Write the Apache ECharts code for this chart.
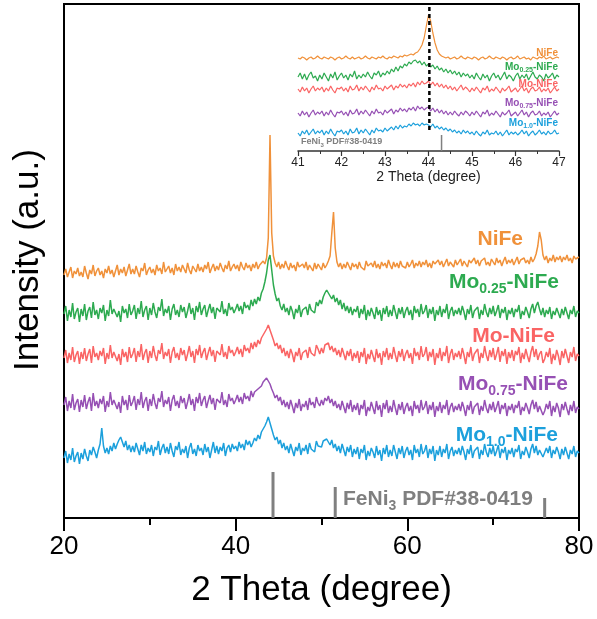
<!DOCTYPE html>
<html>
<head>
<meta charset="utf-8">
<script src="https://cdn.jsdelivr.net/npm/echarts@6/dist/echarts.min.js"></script>
<style>html,body{margin:0;padding:0;background:#fff}#c{width:597px;height:619px}</style>
</head>
<body>
<div id="c"></div>
<script>
// ---------- main pattern: 2θ from 20 to 80, step 0.2 ----------
const thetaStart = 20, thetaStep = 0.2;
const niFe = [
243,249,241,246,251,240,247,244,250,242,
246,241,252,245,239,248,244,253,242,247,
250,243,247,240,249,245,252,244,248,241,
247,253,243,249,245,251,242,248,254,244,
249,244,252,246,241,250,247,255,243,248,
251,245,249,243,253,247,250,244,256,246,
248,252,245,250,243,254,247,251,246,253,
249,245,255,248,244,252,250,246,254,247,
251,246,253,249,256,245,250,254,247,252,
248,255,250,246,253,249,257,247,251,254,
249,253,247,256,251,248,255,250,253,247,
254,250,256,249,253,251,257,254,260,280,
383,285,262,255,251,256,249,254,250,257,
252,248,255,250,253,247,256,251,249,254,
250,256,248,253,251,247,255,249,254,252,
248,255,250,253,257,262,285,306,270,256,
251,255,249,254,250,256,252,248,255,251,
254,249,256,251,253,248,257,252,250,255,
251,257,250,254,249,256,252,255,250,258,
253,249,256,251,255,250,257,252,254,250,
256,251,254,258,250,255,252,257,251,256,
253,258,251,255,250,257,254,252,258,253,
257,251,255,259,252,256,254,251,258,253,
255,259,252,257,254,251,258,255,253,260,
254,258,252,257,255,260,253,256,252,259,
256,253,260,255,258,252,257,261,254,258,
255,259,253,257,261,254,258,256,260,255,
258,254,261,256,259,264,272,286,278,263,
258,262,255,260,257,263,256,261,258,262,
256,261,258,263,257,260,255,262,259,257,
261];
const mo025 = [
204,212,197,208,201,215,199,206,210,196,
209,202,214,198,207,211,200,216,203,208,
199,210,205,213,197,208,202,218,204,209,
211,201,207,196,212,205,209,200,214,203,
207,213,199,210,204,217,201,208,212,198,
210,203,215,206,200,211,207,219,202,209,
205,212,198,209,214,203,208,201,213,206,
211,200,207,215,204,210,198,212,206,216,
203,209,213,201,208,214,205,211,199,210,
212,206,217,204,209,202,215,208,211,205,
209,214,207,212,204,216,210,213,208,218,
212,219,214,221,217,225,229,236,245,258,
263,248,233,224,217,220,212,208,214,206,
210,203,212,207,199,209,205,213,201,208,
206,211,203,214,208,210,205,216,212,218,
214,221,225,228,226,222,219,223,216,220,
213,218,209,215,207,212,205,211,203,209,
206,212,200,209,204,213,198,208,202,210,
205,199,211,203,208,197,210,204,212,201,
208,202,213,206,199,210,204,211,200,207,
211,203,208,198,212,205,209,201,214,204,
207,213,200,209,204,211,197,208,203,212,
201,209,205,214,199,207,211,202,208,204,
210,203,212,206,198,209,204,213,200,207,
205,211,199,208,203,214,206,201,210,204,
212,202,207,213,200,209,205,211,198,208,
204,210,201,209,206,213,199,207,203,211,
206,200,209,214,205,212,216,209,203,210,
201,208,204,211,199,207,203,210,205,200,
209,203,211,205,199,208,204,212,201,207,
205];
const moNiFe = [
160,168,155,165,158,171,156,163,167,154,
166,159,170,157,164,169,155,172,161,165,
158,167,162,170,154,165,159,173,160,166,
168,157,164,153,169,161,166,156,171,160,
164,170,156,167,161,174,158,165,169,155,
167,160,172,163,157,168,164,175,159,166,
162,169,155,166,171,160,165,158,170,163,
168,157,164,172,161,167,155,169,163,173,
160,166,170,158,165,171,162,168,156,167,
169,163,174,161,166,159,172,165,168,162,
166,171,164,169,161,173,167,170,165,175,
169,176,171,178,174,180,183,186,189,193,
188,183,178,172,175,169,173,165,170,162,
167,160,169,164,156,166,162,170,158,165,
163,168,160,171,165,167,162,173,169,164,
170,165,173,171,175,168,172,166,170,163,
168,161,170,164,158,167,162,169,157,165,
160,167,155,166,161,170,154,164,159,168,
162,156,169,160,165,153,167,161,170,158,
165,159,171,163,156,167,161,169,157,164,
168,160,165,154,170,162,166,158,172,161,
164,171,157,166,161,169,153,165,160,170,
157,166,162,172,155,164,169,158,165,161,
167,159,170,163,154,166,161,171,157,164,
162,169,155,165,160,172,163,157,168,161,
170,158,164,171,156,167,162,169,154,166,
160,168,157,167,163,171,155,165,159,169,
162,156,166,172,161,169,158,164,167,155,
159,166,161,170,154,164,158,168,162,153,
167,160,169,162,155,166,161,171,157,164,
162];
const mo075 = [
113,121,107,117,110,124,108,115,119,106,
118,111,123,109,116,121,107,125,112,117,
110,119,114,122,106,117,111,126,113,118,
120,109,116,105,122,113,118,108,123,112,
116,122,108,119,113,126,110,117,121,107,
119,112,124,115,109,120,116,127,111,118,
114,121,107,118,123,112,117,110,122,115,
120,109,116,124,113,119,107,121,115,125,
112,118,122,110,117,123,114,120,108,119,
121,115,126,113,118,111,124,117,120,114,
118,123,116,121,114,125,119,122,117,127,
121,126,124,129,127,132,136,138,140,137,
134,129,125,120,123,117,121,113,118,111,
116,109,118,112,105,115,110,119,107,114,
111,117,108,120,113,116,110,121,115,112,
118,113,120,117,122,115,119,112,117,110,
114,108,117,111,105,115,109,118,106,113,
108,115,103,113,109,118,102,111,107,116,
110,104,117,108,113,101,115,109,118,105,
112,106,118,110,103,114,108,116,104,111,
115,107,112,102,117,109,113,105,118,108,
111,117,104,113,108,116,101,112,107,116,
105,113,109,118,103,111,115,106,112,108,
114,107,116,110,102,113,108,117,104,111,
109,115,103,112,107,118,110,105,114,108,
116,106,111,117,104,113,109,115,102,112,
108,114,105,113,110,117,103,111,107,115,
110,104,113,118,109,116,106,112,114,103,
107,114,109,117,102,112,106,115,110,101,
114,108,116,109,103,113,107,117,105,111,
109];
const mo10 = [
60,67,55,64,58,70,56,62,66,54,
65,59,69,62,57,68,63,71,66,60,
68,74,90,72,65,70,64,72,67,75,
69,74,78,81,76,71,77,68,73,66,
72,66,75,69,63,73,67,76,64,70,
66,73,62,71,68,77,63,70,74,65,
71,64,75,67,61,72,68,76,63,69,
65,72,60,70,75,64,69,62,73,67,
70,63,74,66,71,60,68,76,65,72,
64,71,67,75,62,70,73,66,74,69,
72,67,76,70,74,68,78,73,77,71,
75,80,77,83,79,86,88,92,96,101,
95,89,83,78,81,74,78,70,75,68,
72,65,74,68,62,71,67,75,63,70,
67,73,64,75,69,71,66,77,72,74,
71,77,75,79,76,73,78,70,74,67,
72,65,74,68,62,71,66,73,61,69,
64,71,59,69,65,73,58,67,62,70,
66,60,72,63,68,57,70,64,73,61,
68,62,73,66,59,70,64,72,60,67,
71,63,68,58,73,65,69,61,74,64,
67,73,60,69,64,72,57,68,63,72,
61,69,65,74,59,67,71,62,68,64,
70,63,72,66,58,69,64,73,60,67,
65,71,59,68,63,74,66,61,70,64,
72,62,67,73,60,69,65,71,58,68,
64,70,61,69,66,73,59,67,63,71,
66,60,69,74,65,72,63,68,70,61,
63,70,65,72,60,68,64,71,66,59,
69,63,71,65,59,68,64,72,61,67,
65];

// ---------- inset: 2θ from 41 to 47, step 0.05 ----------
const insetStart = 41, insetStep = 0.05;
const inNiFe = [
93,92,94,93,91,93,94,92,93,95,
93,92,94,93,92,94,93,91,93,94,
92,93,95,93,92,94,92,93,94,92,
93,95,93,92,94,93,92,94,93,95,
93,92,94,93,95,94,93,95,94,96,
95,96,97,96,98,99,102,106,113,125,
136,130,118,108,101,97,95,94,93,94,
92,93,94,92,93,95,93,92,94,93,
92,94,93,91,93,94,92,93,95,93,
92,94,93,92,94,93,91,93,94,92,
93,95,92,93,94,92,93,91,94,93,
92,94,93,95,92,93,94,92,93,94,
93];
const inMo025 = [
74,78,72,77,71,76,79,73,75,70,
76,72,78,74,70,77,73,79,71,75,
78,73,76,71,77,74,80,72,76,73,
77,74,79,75,72,78,76,80,74,78,
76,80,77,82,79,84,80,85,83,87,
85,89,87,90,91,88,90,86,89,85,
87,84,86,82,85,81,83,79,82,78,
81,77,80,76,79,74,78,75,77,73,
76,72,78,74,71,77,73,76,70,75,
78,73,76,71,75,79,72,76,74,70,
75,78,72,76,73,77,71,75,79,74,
72,76,74,70,77,73,75,78,72,76,
74];
const inMoNiFe = [
62,59,64,60,63,58,62,65,60,63,
61,64,59,63,60,65,61,58,63,62,
64,60,63,59,65,61,62,66,60,64,
61,65,62,59,64,61,66,62,63,60,
65,62,64,66,61,65,63,67,64,66,
63,67,65,68,64,69,66,70,67,68,
70,66,69,65,68,64,67,63,66,62,
65,61,64,60,63,66,61,64,62,59,
63,60,64,61,58,63,61,65,59,62,
60,64,61,58,63,60,62,65,59,61,
63,59,62,65,60,63,58,62,64,60,
61,64,59,62,60,63,58,61,64,60,
62];
const inMo075 = [
38,35,40,36,39,34,38,41,36,39,
37,40,35,39,36,41,37,34,39,38,
40,36,39,35,41,37,38,42,36,40,
37,41,38,35,40,37,42,38,39,36,
41,38,40,42,37,41,39,43,40,42,
39,43,41,44,40,45,42,44,41,43,
44,40,43,39,42,38,41,37,40,36,
39,36,40,37,35,39,36,40,38,35,
39,36,40,37,34,39,37,41,35,38,
36,40,37,34,39,36,38,41,35,37,
39,35,38,41,36,39,34,38,40,36,
37,40,35,38,36,39,34,37,40,36,
38];
const inMo10 = [
18,15,20,17,21,16,19,22,17,20,
18,21,16,20,17,22,18,15,20,19,
21,17,20,16,22,18,19,23,17,21,
18,22,19,16,21,18,23,20,21,19,
23,20,22,24,21,25,22,26,23,25,
24,27,25,28,26,27,25,28,26,27,
26,24,27,23,25,22,24,21,23,20,
22,19,21,18,20,17,21,18,20,17,
19,16,20,17,15,19,17,21,16,18,
17,20,16,19,15,18,21,16,19,17,
19,16,18,21,17,20,15,18,20,16,
18,21,17,19,16,20,17,18,21,17,
18];

// reference pattern FeNi3 PDF#38-0419
const refPos = [44.35, 51.6, 76.0];
const refHeight = [46, 31, 20];
const insetRefPos = 44.3, insetRefHeight = 16;
const dashPos = 44.02, dashFrom = 21, dashTo = 144;

const seriesNames = ['NiFe', 'Mo0.25-NiFe', 'Mo-NiFe', 'Mo0.75-NiFe', 'Mo1.0-NiFe'];
const colors = ['#F0913A', '#2DAA50', '#FA6464', '#9650B4', '#1CA0DC'];
const mainData = [niFe, mo025, moNiFe, mo075, mo10];
const insetData = [inNiFe, inMo025, inMoNiFe, inMo075, inMo10];

const FONT = '"Liberation Sans", Arial, sans-serif';

function pairs(arr, start, step) {
  return arr.map((v, i) => [+(start + i * step).toFixed(3), v]);
}

const series = [];
mainData.forEach((arr, k) => {
  series.push({
    type: 'line', xAxisIndex: 0, yAxisIndex: 0, name: seriesNames[k],
    data: pairs(arr, thetaStart, thetaStep), showSymbol: false, symbol: 'none',
    lineStyle: { color: colors[k], width: 1.5 }, z: 3 + (5 - k)
  });
});
insetData.forEach((arr, k) => {
  series.push({
    type: 'line', xAxisIndex: 1, yAxisIndex: 1, name: 'inset-' + seriesNames[k],
    data: pairs(arr, insetStart, insetStep), showSymbol: false, symbol: 'none',
    lineStyle: { color: colors[k], width: 1.2 }, z: 3
  });
});
refPos.forEach((p, k) => {
  series.push({
    type: 'line', xAxisIndex: 0, yAxisIndex: 0, symbol: 'none',
    data: [[p, 0], [p, refHeight[k]]],
    lineStyle: { color: '#808080', width: 3 }, z: 2
  });
});
series.push({
  type: 'line', xAxisIndex: 1, yAxisIndex: 1, symbol: 'none',
  data: [[insetRefPos, 0], [insetRefPos, insetRefHeight]],
  lineStyle: { color: '#808080', width: 1.5 }, z: 2
});
series.push({
  type: 'line', xAxisIndex: 1, yAxisIndex: 1, symbol: 'none',
  data: [[dashPos, dashFrom], [dashPos, dashTo]],
  lineStyle: { color: '#000', width: 2.5, type: [4, 3] }, z: 10
});

const mainRich = {
  a: { fontSize: 21, fontWeight: 'bold', fontFamily: FONT, lineHeight: 28, verticalAlign: 'middle' },
  s: { fontSize: 14, fontWeight: 'bold', fontFamily: FONT, lineHeight: 14, verticalAlign: 'bottom' }
};
const insetRich = {
  a: { fontSize: 10, fontWeight: 'bold', fontFamily: FONT, lineHeight: 13, verticalAlign: 'middle' },
  s: { fontSize: 7, fontWeight: 'bold', fontFamily: FONT, lineHeight: 7, verticalAlign: 'bottom' }
};
const labelTexts = [
  '{a|NiFe}',
  '{a|Mo}{s|0.25}{a|-NiFe}',
  '{a|Mo-NiFe}',
  '{a|Mo}{s|0.75}{a|-NiFe}',
  '{a|Mo}{s|1.0}{a|-NiFe}'
];
const mainLabelPos = [[523, 239], [559, 282], [555, 336], [568, 384], [558, 435]];
const insetLabelPos = [[558, 53], [558, 67], [558, 84], [558, 103], [558, 123]];

const graphic = [];
labelTexts.forEach((t, k) => {
  graphic.push({
    type: 'text', x: mainLabelPos[k][0], y: mainLabelPos[k][1], z: 20,
    style: { text: t, rich: mainRich, fill: colors[k], align: 'right', verticalAlign: 'middle' }
  });
  graphic.push({
    type: 'text', x: insetLabelPos[k][0], y: insetLabelPos[k][1], z: 20,
    style: { text: t, rich: insetRich, fill: colors[k], align: 'right', verticalAlign: 'middle' }
  });
});
graphic.push({
  type: 'text', x: 343, y: 499, z: 20,
  style: {
    text: '{a|FeNi}{s|3}{a| PDF#38-0419}', fill: '#7F7F7F', align: 'left', verticalAlign: 'middle',
    rich: mainRich
  }
});
graphic.push({
  type: 'text', x: 301, y: 142, z: 20,
  style: {
    text: '{a|FeNi}{s|3}{a| PDF#38-0419}', fill: '#808080', align: 'left', verticalAlign: 'middle',
    rich: {
      a: { fontSize: 9, fontWeight: 'bold', fontFamily: FONT, lineHeight: 12, verticalAlign: 'middle' },
      s: { fontSize: 6, fontWeight: 'bold', fontFamily: FONT, lineHeight: 6, verticalAlign: 'bottom' }
    }
  }
});
graphic.push({
  type: 'text', x: 28, y: 260, rotation: Math.PI / 2, z: 20,
  style: { text: 'Intensity (a.u.)', fill: '#000', font: '35px ' + FONT, align: 'center', verticalAlign: 'middle' }
});

const chart = echarts.init(document.getElementById('c'), null, { renderer: 'canvas' });
chart.setOption({
  animation: false,
  backgroundColor: '#fff',
  grid: [
    { left: 64, top: 4, width: 515, height: 514, show: true, borderColor: '#000', borderWidth: 2, backgroundColor: 'transparent' },
    { left: 298, top: 4, width: 261, height: 147, show: false }
  ],
  xAxis: [
    {
      gridIndex: 0, type: 'value', min: 20, max: 80, interval: 20,
      axisLine: { show: true, onZero: false, lineStyle: { color: '#000', width: 2 } },
      axisTick: { show: true, inside: false, length: 13, lineStyle: { color: '#000', width: 2 } },
      minorTick: { show: true, splitNumber: 2, length: 7, lineStyle: { color: '#000', width: 2 } },
      splitLine: { show: false }, minorSplitLine: { show: false },
      axisLabel: { fontSize: 26, color: '#000', margin: 16, fontFamily: FONT },
      name: '2 Theta (degree)', nameLocation: 'middle', nameGap: 55,
      nameTextStyle: { fontSize: 35, color: '#000', fontFamily: FONT }
    },
    {
      gridIndex: 1, type: 'value', min: 41, max: 47, interval: 1,
      axisLine: { show: true, onZero: false, lineStyle: { color: '#333', width: 1.5 } },
      axisTick: { show: true, inside: false, length: 5, lineStyle: { color: '#333', width: 1.2 } },
      minorTick: { show: true, splitNumber: 2, length: 3, lineStyle: { color: '#333', width: 1 } },
      splitLine: { show: false }, minorSplitLine: { show: false },
      axisLabel: { fontSize: 12, color: '#222', margin: 6, fontFamily: FONT },
      name: '2 Theta (degree)', nameLocation: 'middle', nameGap: 17,
      nameTextStyle: { fontSize: 14, color: '#222', fontFamily: FONT }
    }
  ],
  yAxis: [
    {
      gridIndex: 0, type: 'value', min: 0, max: 514,
      axisLine: { show: true, lineStyle: { color: '#000', width: 2 } },
      axisTick: { show: false }, axisLabel: { show: false }, splitLine: { show: false }
    },
    {
      gridIndex: 1, type: 'value', min: 0, max: 147, show: false,
      axisLine: { show: false }, axisTick: { show: false }, axisLabel: { show: false }, splitLine: { show: false }
    }
  ],
  series: series,
  graphic: graphic
});
</script>
</body>
</html>
